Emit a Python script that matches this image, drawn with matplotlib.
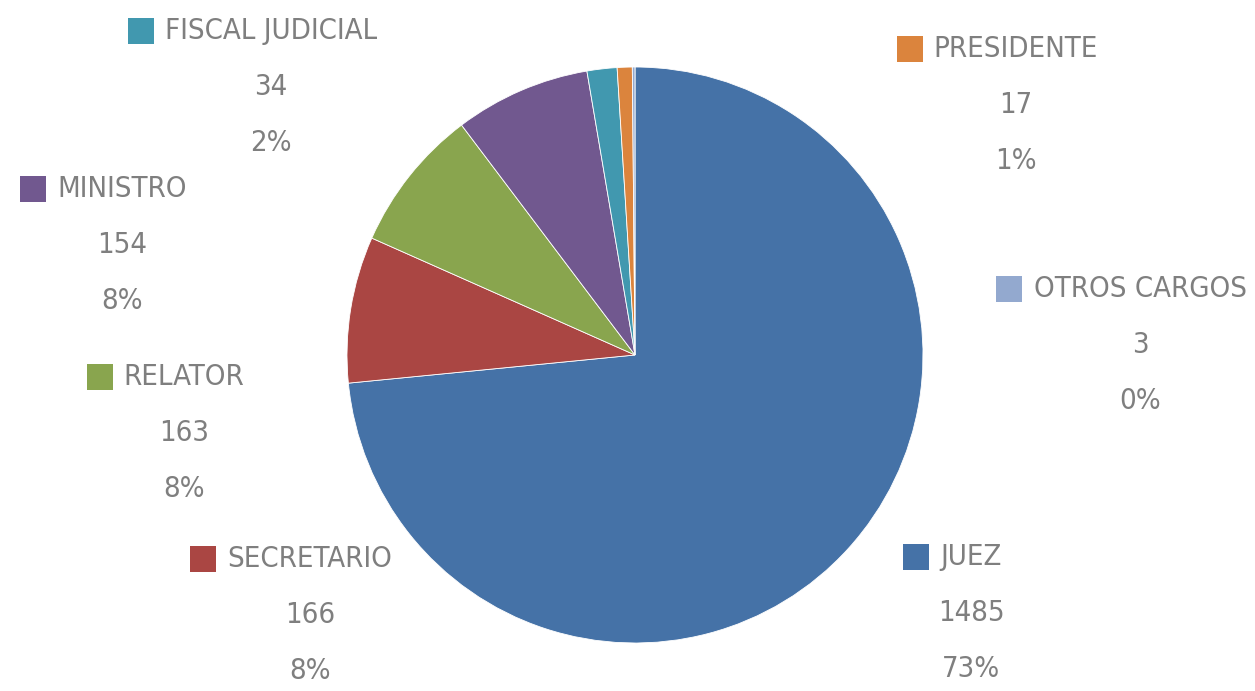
import matplotlib
matplotlib.use("Agg")
import matplotlib.pyplot as plt
from matplotlib import font_manager
from matplotlib.offsetbox import (AnnotationBbox, DrawingArea, HPacker,
                                  TextArea, VPacker)
from matplotlib.patches import Rectangle

# data, clockwise from 12 o'clock
cargos = ["JUEZ", "SECRETARIO", "RELATOR", "MINISTRO",
          "FISCAL JUDICIAL", "PRESIDENTE", "OTROS CARGOS"]
valores = [1485, 166, 163, 154, 34, 17, 3]
colores = ["#4572A7", "#AA4643", "#89A54E", "#71588F",
           "#4198AF", "#DB843D", "#93A9CF"]

# label centres (x of name text, y of the value line), pixels from top-left
label_pos = {
    "JUEZ": (971, 613),
    "SECRETARIO": (310, 615),
    "RELATOR": (184, 433),
    "MINISTRO": (122, 245),
    "FISCAL JUDICIAL": (271, 87),
    "PRESIDENTE": (1016, 105),
    "OTROS CARGOS": (1140, 345),
}

names = {f.name for f in font_manager.fontManager.ttflist}
if "Liberation Sans Narrow" in names:
    fprops = dict(family="Liberation Sans Narrow", size=23)
else:
    fprops = dict(family="DejaVu Sans", stretch="condensed", size=21)
gris = "#7F7F7F"

W, H = 1255, 691
fig = plt.figure(figsize=(W / 100, H / 100), dpi=100)
cx, cy, r = 635, 355, 288
ax = fig.add_axes([(cx - r) / W, (H - cy - r) / H, 2 * r / W, 2 * r / H])
ax.pie(valores, colors=colores, startangle=90, counterclock=False,
       radius=1, wedgeprops=dict(linewidth=0.6, edgecolor="white"))
ax.set_xlim(-1, 1)
ax.set_ylim(-1, 1)
ax.axis("off")

total = sum(valores)
# sizes in points (26 px square, 10 px gap at 100 dpi)
sq, gap = 18.7, 8
for name, val, col in zip(cargos, valores, colores):
    pct = round(val / total * 100)
    box = DrawingArea(sq + gap, sq)
    box.add_artist(Rectangle((0, 0), sq, sq, facecolor=col, edgecolor="none"))
    spacer = DrawingArea(sq + gap, sq)
    first = HPacker(children=[box, TextArea(name, textprops=dict(color=gris, **fprops)), spacer],
                    align="center", pad=0, sep=0)
    lines = VPacker(children=[first,
                              TextArea(str(val), textprops=dict(color=gris, **fprops)),
                              TextArea(f"{pct}%", textprops=dict(color=gris, **fprops))],
                    align="center", pad=0, sep=20.5)
    x, y = label_pos[name]
    ab = AnnotationBbox(lines, (x, H - y), xycoords="figure pixels",
                        box_alignment=(0.5, 0.5), frameon=False)
    fig.add_artist(ab)

fig.savefig("out.png", dpi=100)
